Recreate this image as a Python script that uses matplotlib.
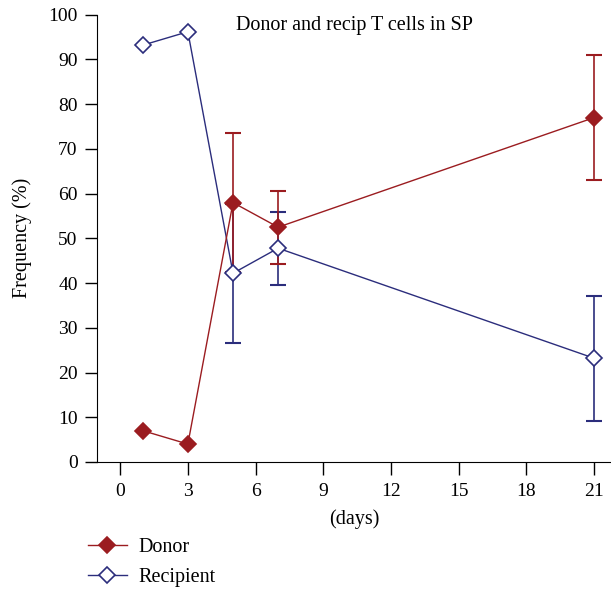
import numpy as np
import matplotlib
matplotlib.use('Agg')
import matplotlib.pyplot as plt

# data
days = [1, 3, 5, 7, 21]
donor = [7.0, 4.0, 58.0, 52.5, 77.0]
donor_err = [0, 0, 15.5, 8.2, 14.0]
recip = [93.2, 96.2, 42.2, 47.8, 23.2]
recip_err = [0, 0, 15.5, 8.2, 14.0]

x_ticks = [0, 3, 6, 9, 12, 15, 18, 21]
y_ticks = [0, 10, 20, 30, 40, 50, 60, 70, 80, 90, 100]

red = '#9b1c20'
navy = '#2b2d7c'

plt.rcParams['font.family'] = ['Liberation Serif', 'DejaVu Serif']
plt.rcParams['font.size'] = 14.5

fig = plt.figure(figsize=(6.11, 5.90), dpi=100)
ax = fig.add_axes([0.159, 0.217, 0.841, 0.758])

def draw(vals, errs, color, face, label):
    line, = ax.plot(days, vals, color=color, lw=1.0, marker='D', ms=8.5,
                    mfc=face, mec=color, mew=1.2, label=label, zorder=3)
    idx = [i for i, e in enumerate(errs) if e > 0]
    ax.errorbar([days[i] for i in idx], [vals[i] for i in idx],
                yerr=[errs[i] for i in idx], fmt='none', ecolor=color,
                elinewidth=1.2, capsize=5.5, capthick=1.5, zorder=2)
    return line

h2 = draw(recip, recip_err, navy, 'white', 'Recipient')
h1 = draw(donor, donor_err, red, red, 'Donor')

ax.set_xlim(-1.02, 21.75)
ax.set_ylim(0, 100)
ax.set_xticks(x_ticks)
ax.set_yticks(y_ticks)
ax.spines['top'].set_visible(False)
ax.spines['right'].set_visible(False)
ax.tick_params(axis='both', direction='out', length=9, width=1.0, labelsize=14)
ax.tick_params(axis='x', pad=6)
ax.tick_params(axis='y', pad=5)

ax.set_xlabel('(days)', fontsize=14.5, labelpad=7)
ax.set_ylabel('Frequency (%)', fontsize=14.5, labelpad=12)
ax.text(0.5, 0.997, 'Donor and recip T cells in SP', transform=ax.transAxes,
        ha='center', va='top', fontsize=14.5)

fig.legend(handles=[h1, h2], loc='upper left', bbox_to_anchor=(0.128, 0.105),
           frameon=False, fontsize=14.5, handlelength=1.9, labelspacing=0.55,
           handletextpad=0.6, borderpad=0)

fig.savefig('out.png', dpi=100)
